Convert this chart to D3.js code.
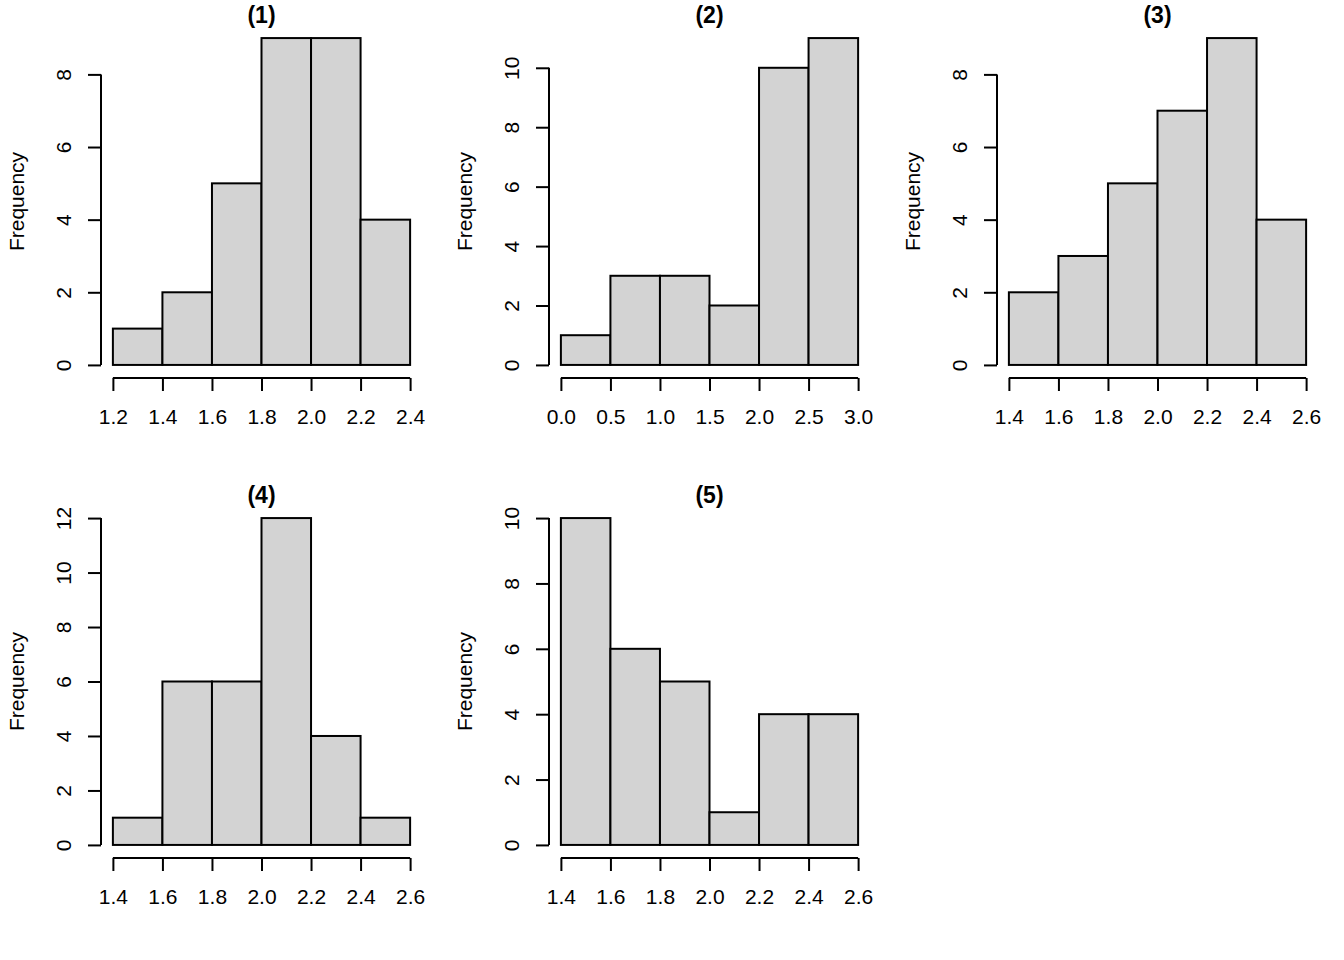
<!DOCTYPE html>
<html>
<head>
<meta charset="utf-8">
<script src="https://cdn.jsdelivr.net/npm/d3@7"></script>
<style>
  html, body { margin: 0; padding: 0; background: #fff; }
  text { font-family: Arial, "Liberation Sans", sans-serif; fill: #000; }
</style>
</head>
<body>
<svg id="chart" width="1344" height="960"></svg>
<script>
// ---- data ----
const titles = ["(1)", "(2)", "(3)", "(4)", "(5)"];
const yLabel = "Frequency";

const breaks1 = [1.2, 1.4, 1.6, 1.8, 2.0, 2.2, 2.4];
const counts1 = [1, 2, 5, 9, 9, 4];
const yTicks1 = [0, 2, 4, 6, 8];
const xLabels1 = ["1.2", "1.4", "1.6", "1.8", "2.0", "2.2", "2.4"];

const breaks2 = [0.0, 0.5, 1.0, 1.5, 2.0, 2.5, 3.0];
const counts2 = [1, 3, 3, 2, 10, 11];
const yTicks2 = [0, 2, 4, 6, 8, 10];
const xLabels2 = ["0.0", "0.5", "1.0", "1.5", "2.0", "2.5", "3.0"];

const breaks3 = [1.4, 1.6, 1.8, 2.0, 2.2, 2.4, 2.6];
const counts3 = [2, 3, 5, 7, 9, 4];
const yTicks3 = [0, 2, 4, 6, 8];
const xLabels3 = ["1.4", "1.6", "1.8", "2.0", "2.2", "2.4", "2.6"];

const breaks4 = [1.4, 1.6, 1.8, 2.0, 2.2, 2.4, 2.6];
const counts4 = [1, 6, 6, 12, 4, 1];
const yTicks4 = [0, 2, 4, 6, 8, 10, 12];
const xLabels4 = ["1.4", "1.6", "1.8", "2.0", "2.2", "2.4", "2.6"];

const breaks5 = [1.4, 1.6, 1.8, 2.0, 2.2, 2.4, 2.6];
const counts5 = [10, 6, 5, 1, 4, 4];
const yTicks5 = [0, 2, 4, 6, 8, 10];
const xLabels5 = ["1.4", "1.6", "1.8", "2.0", "2.2", "2.4", "2.6"];

const panels = [
  { title: titles[0], breaks: breaks1, counts: counts1, yTicks: yTicks1, xLabels: xLabels1 },
  { title: titles[1], breaks: breaks2, counts: counts2, yTicks: yTicks2, xLabels: xLabels2 },
  { title: titles[2], breaks: breaks3, counts: counts3, yTicks: yTicks3, xLabels: xLabels3 },
  { title: titles[3], breaks: breaks4, counts: counts4, yTicks: yTicks4, xLabels: xLabels4 },
  { title: titles[4], breaks: breaks5, counts: counts5, yTicks: yTicks5, xLabels: xLabels5 }
];

// ---- layout ----
const cellW = 448, cellH = 480, nCols = 3;
const plotL = 101, plotR = 422, plotT = 25, plotB = 378;
const tickLen = 13;
const svg = d3.select("#chart");

panels.forEach((p, i) => {
  const col = i % nCols, row = Math.floor(i / nCols);
  const g = svg.append("g").attr("transform", `translate(${col * cellW},${row * cellH})`);

  const b0 = p.breaks[0], b1 = p.breaks[p.breaks.length - 1];
  const xr = b1 - b0;
  const x = d3.scaleLinear().domain([b0 - 0.04 * xr, b1 + 0.04 * xr]).range([plotL, plotR]);
  const ymax = d3.max(p.counts);
  const y = d3.scaleLinear().domain([-0.04 * ymax, ymax * 1.04]).range([plotB, plotT]);

  // bars
  const bins = p.counts.map((c, j) => ({ x0: p.breaks[j], x1: p.breaks[j + 1], c }));
  g.selectAll("rect.bar").data(bins).enter().append("rect")
    .attr("class", "bar")
    .attr("x", d => x(d.x0))
    .attr("width", d => x(d.x1) - x(d.x0))
    .attr("y", d => y(d.c))
    .attr("height", d => y(0) - y(d.c))
    .attr("fill", "#D3D3D3")
    .attr("stroke", "#000")
    .attr("stroke-width", 2);

  // x axis
  const xAxis = d3.axisBottom(x)
    .tickValues(p.breaks)
    .tickFormat((d, j) => p.xLabels[j])
    .tickSizeInner(tickLen).tickSizeOuter(0).tickPadding(20);
  const gx = g.append("g").attr("transform", `translate(0,${plotB})`).call(xAxis);
  gx.select(".domain").attr("stroke-width", 2).attr("d", `M${x(b0)},0H${x(b1)}`);
  gx.selectAll(".tick line").attr("stroke-width", 2);
  gx.selectAll(".tick text").attr("font-size", "21px").attr("dy", null).attr("y", 46)
    .attr("font-family", "Arial, 'Liberation Sans', sans-serif");

  // y axis
  const yAxis = d3.axisLeft(y)
    .tickValues(p.yTicks)
    .tickFormat(d3.format("d"))
    .tickSizeInner(tickLen).tickSizeOuter(0);
  const gy = g.append("g").attr("transform", `translate(${plotL},0)`).call(yAxis);
  const yt0 = p.yTicks[0], yt1 = p.yTicks[p.yTicks.length - 1];
  gy.select(".domain").attr("stroke-width", 2).attr("d", `M0,${y(yt0)}V${y(yt1)}`);
  gy.selectAll(".tick line").attr("stroke-width", 2);
  gy.selectAll(".tick text")
    .attr("font-size", "21px")
    .attr("font-family", "Arial, 'Liberation Sans', sans-serif")
    .attr("x", null).attr("dy", null)
    .attr("text-anchor", "middle")
    .attr("transform", "translate(-30,0) rotate(-90)");

  // title
  g.append("text")
    .attr("x", (plotL + plotR) / 2)
    .attr("y", 23)
    .attr("text-anchor", "middle")
    .attr("font-size", "23px")
    .attr("font-weight", "bold")
    .text(p.title);

  // y label
  g.append("text")
    .attr("transform", `translate(23.5,${(plotT + plotB) / 2}) rotate(-90)`)
    .attr("text-anchor", "middle")
    .attr("font-size", "21px")
    .text(yLabel);
});
</script>
</body>
</html>
